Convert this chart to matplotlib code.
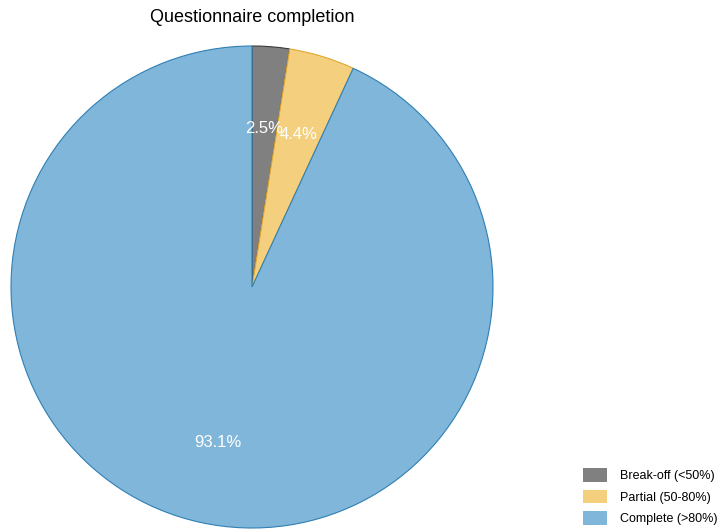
import matplotlib.pyplot as plt
from matplotlib.patches import Patch

plt.rcParams['font.family'] = ['Liberation Sans', 'DejaVu Sans']

labels = ['Break-off (<50%)', 'Partial (50-80%)', 'Complete (>80%)']
shares = [2.5, 4.4, 93.1]
colors = ['#808080', '#f3cf7e', '#7fb6d9']
edges = ['#3a3a3a', '#e0a830', '#2f7fb5']

fig = plt.figure(figsize=(7.18, 5.29), dpi=100)
ax = fig.add_axes([11 / 718, 1 / 529, 482 / 718, 482 / 529])

wedges, texts, autotexts = ax.pie(
    shares, colors=colors, startangle=90, counterclock=False,
    autopct='%1.1f%%', pctdistance=0.66, radius=1,
    wedgeprops=dict(linewidth=0.8),
    textprops=dict(color='white', fontsize=12))
for w, ec in zip(wedges, edges):
    w.set_edgecolor(ec)
ax.set_xlim(-1, 1)
ax.set_ylim(-1, 1)
ax.set_aspect('equal')

fig.text(252 / 718, 1 - 18 / 529, 'Questionnaire completion',
         ha='center', va='center', fontsize=13)

handles = [Patch(facecolor=c, edgecolor='none', label=l) for c, l in zip(colors, labels)]
fig.legend(handles=handles, loc='lower right', bbox_to_anchor=(717 / 718, 4 / 529),
           frameon=False, fontsize=9, handlelength=1.9, handleheight=1.3,
           labelspacing=0.6, handletextpad=1.0, borderpad=0, borderaxespad=0)

fig.savefig('out.png', dpi=100)
